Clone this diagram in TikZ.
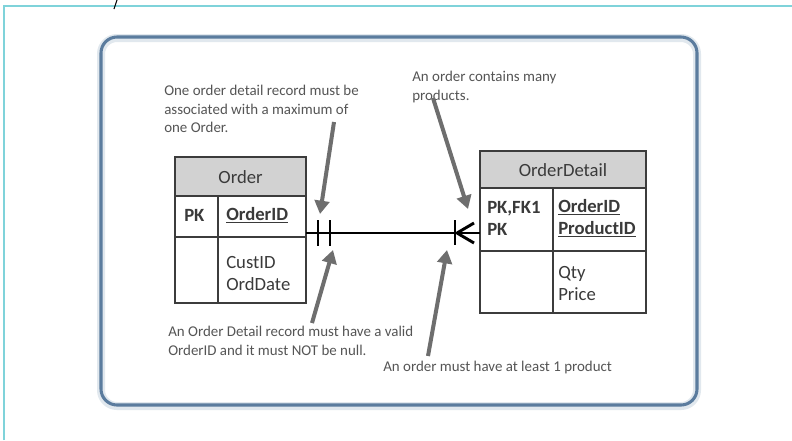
\documentclass[tikz,border=0pt]{standalone}
\usepackage{fontspec}
\setmainfont{Carlito}
\usetikzlibrary{arrows.meta}
\definecolor{cyanframe}{HTML}{7FD3DA}
\definecolor{boxblue}{HTML}{5B7C9E}
\definecolor{hdr}{HTML}{D2D2D2}
\definecolor{tline}{HTML}{3C3C3C}
\definecolor{ttext}{HTML}{3A3A3A}
\definecolor{ann}{HTML}{555555}
\definecolor{arr}{HTML}{6E6E6E}
\begin{document}
\begin{tikzpicture}[x=0.75pt,y=-0.75pt,
  tcell/.style={draw=tline, line width=1.1pt},
  ttxt/.style={text=ttext, font=\fontsize{14}{16.5}\selectfont, inner sep=0pt, anchor=west, align=left},
  anno/.style={text=ann, font=\fontsize{11.2}{13.9}\selectfont, inner sep=0pt, anchor=north west, align=left},
  callout/.style={draw=arr, line width=3pt, -{Triangle[length=10pt,width=11pt]}},
  relline/.style={draw=black, line width=2.2pt}
  ]
\useasboundingbox (0,0) rectangle (792,440);
\fill[white] (0,0) rectangle (792,440);
% outer frame
\draw[cyanframe, line width=1.5pt] (4,440) -- (4,6) -- (792,6);
\draw[black, line width=0.8pt] (117,0) -- (114,9);
% rounded panel
\draw[boxblue!18, line width=6pt, rounded corners=12pt] (101,38) rectangle (697,406);
\draw[boxblue, line width=2.3pt, rounded corners=12pt] (101,37) rectangle (697,405);
% Order table
\fill[hdr] (175,157) rectangle (306,196);
\draw[tcell] (175,157) rectangle (306,303);
\draw[tcell] (175,196) -- (306,196);
\draw[tcell] (175,237) -- (306,237);
\draw[tcell] (218,196) -- (218,303);
\node[ttxt, anchor=center] (ordT) at (240.5,177) {Order};
\node[ttxt] (ordPK) at (184,215) {\textbf{PK}};
\node[ttxt] (ordID) at (226,215) {\textbf{\underline{OrderID}}};
\node[ttxt] (ordAt) at (226,273.5) {CustID\\OrdDate};
% OrderDetail table
\fill[hdr] (480,151) rectangle (646,188);
\draw[tcell] (480,151) rectangle (646,313);
\draw[tcell] (480,188) -- (646,188);
\draw[tcell] (480,251) -- (646,251);
\draw[tcell] (553,188) -- (553,313);
\node[ttxt, anchor=center] (odT) at (563,170) {OrderDetail};
\node[ttxt] (odPK) at (487,218) {\textbf{PK,FK1}\\\textbf{PK}};
\node[ttxt] (odID) at (558,218) {\textbf{\underline{OrderID}}\\\textbf{\underline{ProductID}}};
\node[ttxt] (odAt) at (558,283) {Qty\\Price};
% relationship
\coordinate (relA) at (306,233);
\coordinate (relB) at (480,233);
\draw[relline] (relA) -- (relB);
\draw[relline] (318,220) -- (318,246);
\draw[relline] (330,220) -- (330,246);
\draw[relline] (455,220) -- (455,245);
\draw[relline] (457,233) -- (474,223);
\draw[relline] (457,233) -- (474,243);
% annotations
\node[anno] (n1) at (164,85) {One order detail record must be\\associated with a maximum of\\one Order.};
\node[anno] (n2) at (412,71) {An order contains many\\products.};
\node[anno] (n3) at (168,326) {An Order Detail record must have a valid\\OrderID and it must NOT be null.};
\node[anno] (n4) at (383,361) {An order must have at least 1 product};
% callout arrows
\coordinate (a1s) at (334,122); \coordinate (a1e) at (320,214);
\coordinate (a2s) at (433,98);  \coordinate (a2e) at (468,209);
\coordinate (a3s) at (312,323); \coordinate (a3e) at (333,250);
\coordinate (a4s) at (428,356); \coordinate (a4e) at (447,250);
\draw[callout] (a1s) -- (a1e);
\draw[callout] (a2s) -- (a2e);
\draw[callout] (a3s) -- (a3e);
\draw[callout] (a4s) -- (a4e);
\end{tikzpicture}
\end{document}
